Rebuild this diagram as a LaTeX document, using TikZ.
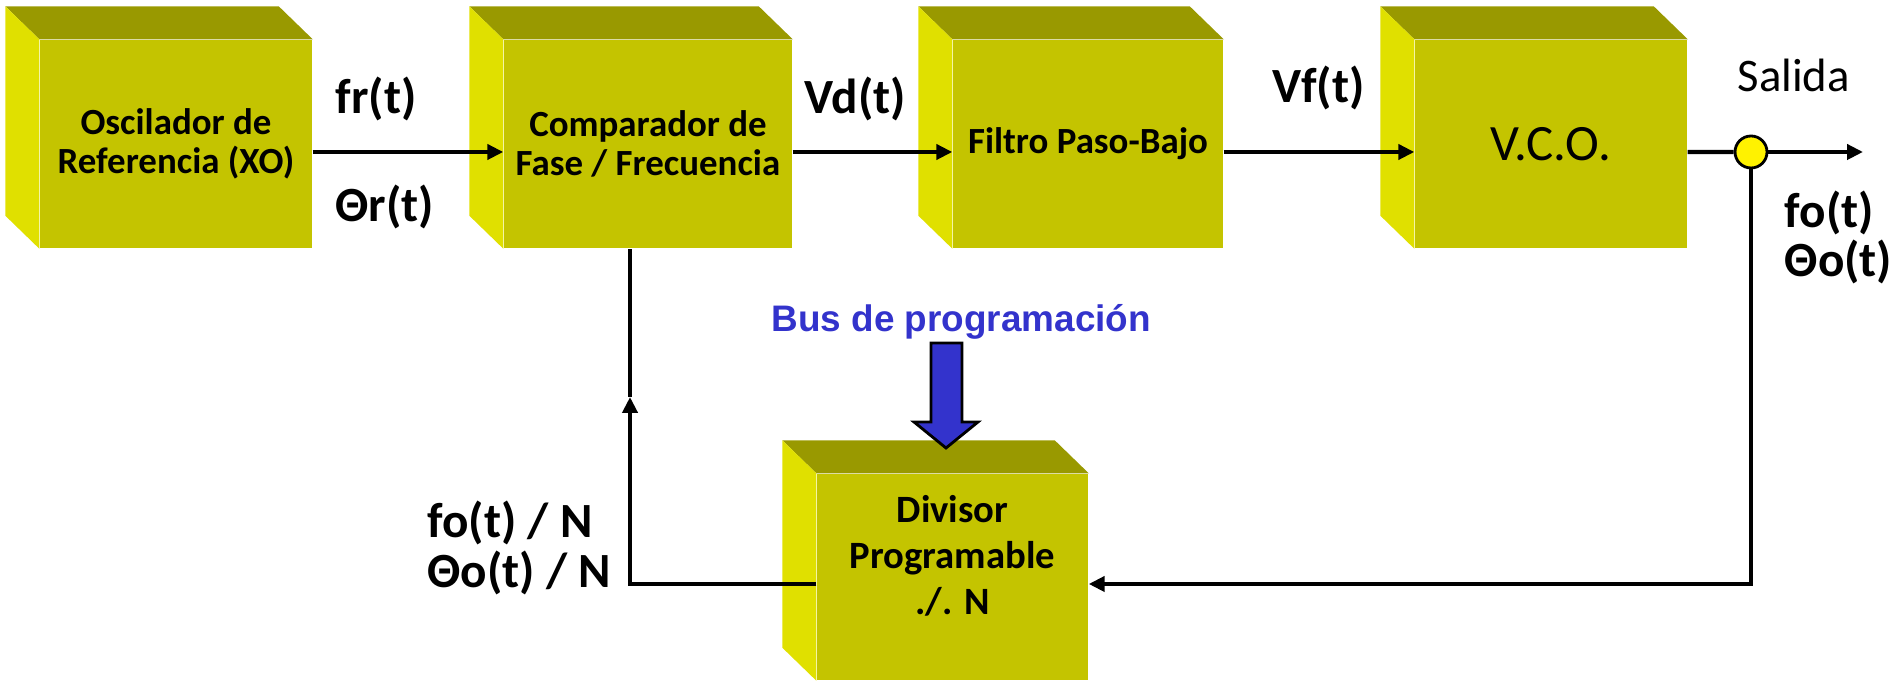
\documentclass[tikz,border=0pt]{standalone}
\usepackage{fontspec}
\setmainfont{Carlito}
\newfontfamily\arialfont{Liberation Sans}
\usetikzlibrary{arrows.meta,calc,positioning}

\definecolor{frente}{HTML}{C4C400}
\definecolor{lado}{HTML}{E0E000}
\definecolor{techo}{HTML}{999900}
\definecolor{azulbus}{HTML}{3333CC}

\tikzstyle{caja} = [rectangle, fill=frente, minimum width=2.72cm, minimum height=2.08cm, inner sep=0pt, text centered, align=center, font=\bfseries\fontsize{10.5}{11.1}\selectfont]
\tikzstyle{rotulo} = [inner sep=0pt, align=center, font=\bfseries\fontsize{11}{13.1}\selectfont]
\tikzstyle{senal} = [inner sep=0pt, anchor=base west, font=\bfseries\fontsize{14}{15}\selectfont]
\tikzstyle{arrow} = [line width=1.2pt, -{Triangle[length=1.6mm,width=1.5mm]}]
\tikzstyle{linea} = [line width=1.2pt]

\begin{document}
\begin{tikzpicture}
        \useasboundingbox (0,0) rectangle (18.89,6.82);

        % bloques
        \node[caja] (osc) at (1.76,5.38) {Oscilador de\\Referencia (XO)};
        \node[caja, minimum width=2.88cm] (cmp) at (6.48,5.38) {Comparador de\\Fase / Frecuencia};
        \node[caja, minimum width=2.70cm] (lpf) at (10.88,5.38) {Filtro Paso-Bajo};
        \node[caja, font=\fontsize{14.5}{16}\selectfont] (vco) at (15.51,5.38) {V.C.O.};
        \node[caja, minimum width=2.71cm, minimum height=2.06cm] (div) at (9.525,1.05) {};
        \node[rotulo] at ([yshift=2.1mm]div.center) {Divisor\\Programable\\./. N};

        % caras laterales
        \foreach \n in {osc,cmp,lpf,vco,div} {
            \fill[techo] ($(\n.north west)+(-0.34,0.33)$) -- ($(\n.north east)+(-0.34,0.33)$) -- (\n.north east) -- (\n.north west) -- cycle;
            \fill[lado] ($(\n.north west)+(-0.34,0.33)$) -- (\n.north west) -- (\n.south west) -- ($(\n.south west)+(-0.34,0.33)$) -- cycle;
        }

        \node[circle, draw, line width=0.8pt, fill=yellow, minimum size=0.32cm, inner sep=0pt] (sal) at (17.51,5.30) {};
        \coordinate (fin) at (18.63,5.30);
        \coordinate (fbk) at (6.30,2.85);

        % senales
        \node[senal] at (3.35,5.68) {fr(t)};
        \node[senal] at (3.35,4.60) {Θr(t)};
        \node[senal] at (8.04,5.68) {Vd(t)};
        \node[senal] at (12.72,5.79) {Vf(t)};
        \node[inner sep=0pt, anchor=base west, font=\fontsize{13.3}{15}\selectfont] at (17.37,5.90) {Salida};
        \node[senal] at (17.84,4.54) {fo(t)};
        \node[senal] at (17.84,4.05) {Θo(t)};
        \node[senal] at (4.27,1.44) {fo(t) / N};
        \node[senal] at (4.27,0.94) {Θo(t) / N};

        \node[inner sep=0pt, anchor=base west, text=azulbus, font=\arialfont\bfseries\fontsize{10.5}{12}\selectfont] (bus) at (7.71,3.50) {Bus de programación};
        \draw[fill=azulbus, line width=0.8pt] (9.31,3.39) -- (9.62,3.39) -- (9.62,2.60) -- (9.78,2.60) -- (9.46,2.34) -- (9.14,2.60) -- (9.31,2.60) -- cycle;

        % conexiones
        \draw[arrow] ([yshift=-0.8mm]osc.east) -- ([yshift=-0.8mm]cmp.west);
        \draw[arrow] ([yshift=-0.8mm]cmp.east) -- ([yshift=-0.8mm]lpf.west);
        \draw[arrow] ([yshift=-0.8mm]lpf.east) -- ([yshift=-0.8mm]vco.west);
        \draw[linea] ([yshift=-0.8mm]vco.east) -- (sal);
        \draw[arrow] (sal) -- (fin);
        \draw[arrow] (sal) |- ([yshift=-0.7mm]div.east);
        \draw[arrow] ([yshift=-0.7mm]div.west) -| (fbk);
        \draw[linea] (fbk) -- (fbk |- cmp.south);

\end{tikzpicture}
\end{document}
